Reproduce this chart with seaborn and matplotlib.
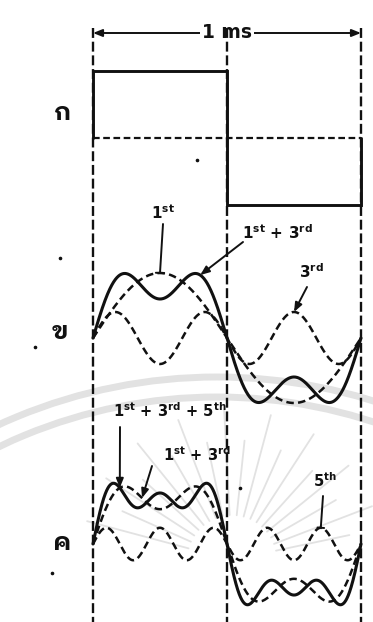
import numpy as np
import pandas as pd
import matplotlib
matplotlib.use("Agg")
import matplotlib.pyplot as plt
import matplotlib.transforms as mtransforms
from matplotlib.lines import Line2D
from matplotlib.patches import Arc
import seaborn as sns

sns.set_theme(style="white")
plt.rcParams["font.family"] = ["DejaVu Sans", "IBM Plex Sans Thai Looped"]
plt.rcParams["mathtext.fontset"] = "dejavusans"

# ---- data -------------------------------------------------------------
# one period of the square wave (ms) and its two levels
square_edges = [0.0, 0.5, 1.0]
square_levels = [1.0, -1.0]

# odd harmonics used to build the wave, with their drawn amplitudes
harmonic_orders = [1, 3, 5]
harmonic_amps = [1.0, 0.40, 0.28]

panel_labels = ["ก", "ข", "ค"]
period_label = "1 ms"
labels_b = [r"1$^{\mathbf{st}}$", r"1$^{\mathbf{st}}$ + 3$^{\mathbf{rd}}$", r"3$^{\mathbf{rd}}$"]
labels_c = [r"1$^{\mathbf{st}}$ + 3$^{\mathbf{rd}}$ + 5$^{\mathbf{th}}$",
            r"1$^{\mathbf{st}}$ + 3$^{\mathbf{rd}}$", r"5$^{\mathbf{th}}$"]

# ---- figure -----------------------------------------------------------
W, H = 373, 622
fig = plt.figure(figsize=(W / 100, H / 100), dpi=100)
fig.patch.set_facecolor("white")
INK = "#111111"
THAI = ["IBM Plex Sans Thai Looped", "DejaVu Sans"]


def fp(x, y):
    """figure-pixel position measured from the top-left corner"""
    return (x, H - y)


# faint seal printed behind the page
bg = fig.add_axes([0, 0, 1, 1], zorder=0)
bg.set_xlim(0, W)
bg.set_ylim(H, 0)
bg.axis("off")
seal = "#e2e2e2"
for r in (523, 503):
    bg.add_patch(Arc((217, 900), 2 * r, 2 * r, theta1=0, theta2=360,
                     color=seal, lw=5.0))
for ang in np.arange(12, 170, 9):
    a = np.deg2rad(ang)
    r0, r1 = 45, 150 if ang % 2 else 120
    bg.plot([232 + r0 * np.cos(a), 232 + r1 * np.cos(a)],
            [560 - r0 * np.sin(a), 560 - r1 * np.sin(a)],
            color=seal, lw=1.3, solid_capstyle="round")

# time axis mapping: 0 ms at x=93 px, 1 ms at x=361 px
px_per_ms = 268.0
xlim = (-93 / px_per_ms, (W - 93) / px_per_ms)


def panel(top, bottom, zero, scale):
    ax = fig.add_axes([0, 1 - bottom / H, 1, (bottom - top) / H], zorder=2)
    ax.set_xlim(*xlim)
    ax.set_ylim(-(bottom - zero) / scale, (zero - top) / scale)
    ax.axis("off")
    ax.patch.set_alpha(0)
    return ax


axA = panel(0, 215, 138, 67)
axB = panel(215, 420, 338, 65)
axC = panel(420, H, 544, 58)

t = np.linspace(0, 1, 1201)


def harmonic(k):
    return harmonic_amps[k] * np.sin(2 * np.pi * harmonic_orders[k] * t)


def draw(ax, y, dashed=False, lw=1.8):
    sns.lineplot(x=t, y=y, ax=ax, color=INK, lw=lw, estimator=None, sort=False,
                 legend=False)
    ln = ax.lines[-1]
    if dashed:
        ln.set_dashes((3.0, 1.7))
    ln.set_solid_capstyle("round")
    return ln


# --- panel ก : square wave -------------------------------------------
sq = pd.DataFrame({
    "t": [square_edges[0], square_edges[0], square_edges[1], square_edges[1],
          square_edges[2], square_edges[2]],
    "v": [0.0, square_levels[0], square_levels[0], square_levels[1],
          square_levels[1], 0.0],
})
sns.lineplot(data=sq, x="t", y="v", ax=axA, color=INK, lw=2.1,
             estimator=None, sort=False, legend=False)
axA.lines[-1].set_solid_joinstyle("miter")
axA.plot([square_edges[0], square_edges[2]], [0, 0], color=INK, lw=1.6,
         dashes=(3.0, 1.6))

# 1 ms span arrow
y_span = (138 - 33) / 67
axA.annotate("", xy=(square_edges[0], y_span), xytext=(square_edges[2], y_span),
             arrowprops=dict(arrowstyle="<|-|>,head_length=0.45,head_width=0.18",
                             color=INK, lw=1.4, shrinkA=0, shrinkB=0))
axA.text(0.5, y_span, period_label, ha="center", va="center", fontsize=13.5,
         fontweight="bold", color=INK,
         bbox=dict(facecolor="white", edgecolor="none", pad=1.5))

# --- panel ข : 1st, 3rd and their sum --------------------------------
h1, h3, h5 = harmonic(0), harmonic(1), harmonic(2)
draw(axB, h1, dashed=True, lw=1.8)
draw(axB, h3, dashed=True, lw=1.8)
draw(axB, h1 + h3, lw=2.2)

# --- panel ค : 1st+3rd, 5th and their sum ----------------------------
draw(axC, h1 + h3, dashed=True, lw=1.8)
draw(axC, h5, dashed=True, lw=1.8)
draw(axC, h1 + h3 + h5, lw=2.2)

# boundaries of the half periods, running down through all panels
for tb in square_edges:
    tr = mtransforms.blended_transform_factory(axA.transData, fig.transFigure)
    fig.add_artist(Line2D([tb, tb], [1 - 28 / H, 0], transform=tr, color=INK,
                          lw=1.7, dashes=(4.2, 1.6), zorder=3))

# panel letters
for lab, (x, y) in zip(panel_labels, [(63, 113), (60, 332), (62, 543)]):
    fig.text(*fp(x, y), lab, transform=None, ha="center", va="center",
             fontsize=18, fontweight="bold", color=INK, family=THAI)

# stray specks of ink
for x, y in [(197, 160), (60, 258), (35, 347), (52, 573), (240, 488)]:
    fig.add_artist(Line2D([x / W], [1 - y / H], transform=fig.transFigure,
                          marker="o", ms=1.6, color=INK, lw=0))


def value_at(curve, tt):
    return float(np.interp(tt, t, curve))


def pointer(ax, start, tip, style):
    ax.annotate("", xy=tip, xycoords="data", xytext=fp(*start),
                textcoords="figure pixels", annotation_clip=False,
                arrowprops=dict(arrowstyle=style, color=INK, lw=1.4,
                                shrinkA=0, shrinkB=0))


def label(x, y, s, size=10.5):
    fig.text(*fp(x, y), s, transform=None, ha="center", va="center",
             fontsize=size, fontweight="bold", color=INK)


head = "-|>,head_length=0.45,head_width=0.18"

label(163, 213, labels_b[0], 11)
pointer(axB, (163, 224), (0.25, value_at(h1, 0.25)), "-[,widthB=0.25,lengthB=0")
label(277, 233, labels_b[1], 11)
pointer(axB, (243, 242), (0.40, value_at(h1 + h3, 0.40)), head)
label(311, 272, labels_b[2], 11)
pointer(axB, (307, 287), (0.75, value_at(h3, 0.75)), head)

label(170, 411, labels_c[0])
pointer(axC, (120, 427), (0.10, value_at(h1 + h3 + h5, 0.10)), head)
label(197, 455, labels_c[1])
pointer(axC, (152, 466), (0.183, value_at(h1 + h3, 0.183)), head)
label(325, 481, labels_c[2])
pointer(axC, (323, 496), (0.85, value_at(h5, 0.85)), "-[,widthB=0.2,lengthB=0")

fig.savefig("out.png", dpi=100, facecolor="white")
